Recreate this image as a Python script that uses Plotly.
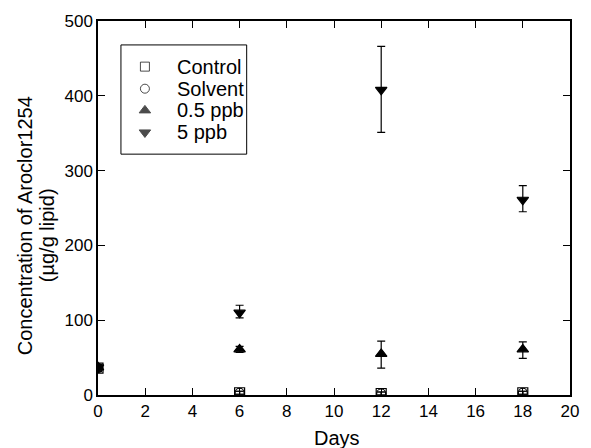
import plotly.graph_objects as go

days = [0, 6, 12, 18]
control = [36, 3, 2, 3]
control_err = [4, 2, 2, 2]
solvent = [36, 3, 2, 3]
solvent_err = [4, 2, 2, 2]
low_dose = [37, 61, 55, 61]
low_dose_err_plus = [3, 4, 17, 10]
low_dose_err_minus = [3, 4, 19, 12]
high_dose = [37, 110, 408, 261]
high_dose_err_plus = [3, 10, 58, 19]
high_dose_err_minus = [3, 7, 57, 16]

series_names = ["Control", "Solvent", "0.5 ppb", "5 ppb"]
x_ticks = list(range(0, 21, 2))
y_ticks = list(range(0, 501, 100))

FONT = "Liberation Sans, Arial, sans-serif"

symbols = ["square-open", "circle-open", "triangle-up", "triangle-down"]
sizes = [10, 9, 10, 10]

fig = go.Figure()

data = [
    (control, control_err, control_err),
    (solvent, solvent_err, solvent_err),
    (low_dose, low_dose_err_plus, low_dose_err_minus),
    (high_dose, high_dose_err_plus, high_dose_err_minus),
]

for name, (y, ep, em), sym, sz in zip(series_names, data, symbols, sizes):
    fig.add_trace(go.Scatter(
        x=days, y=y, mode="markers", name=name, showlegend=False,
        marker=dict(symbol=sym, size=sz, color="black",
                    line=dict(color="black", width=1.2)),
        error_y=dict(type="data", array=ep, arrayminus=em, symmetric=False,
                     color="black", thickness=1.2, width=4),
    ))

# custom legend (layout positions in paper fraction of plot area)
leg_rows = [0.878, 0.819, 0.761, 0.702]
leg_sym_x = 0.0994
leg_txt_x = 0.163
leg_sizes = [9, 9, 10, 10]
fig.add_trace(go.Scatter(
    x=[leg_sym_x] * 4, y=leg_rows, mode="markers", xaxis="x2", yaxis="y2",
    showlegend=False, hoverinfo="skip",
    marker=dict(symbol=symbols, size=leg_sizes, color="black",
                line=dict(color="black", width=1)),
))
for name, ry in zip(series_names, leg_rows):
    fig.add_annotation(x=leg_txt_x, y=ry, xref="paper", yref="paper",
                       text=name, showarrow=False, xanchor="left", yanchor="middle",
                       font=dict(family=FONT, size=20, color="black"))
fig.add_shape(type="rect", xref="paper", yref="paper",
              x0=0.0486, x1=0.315, y0=0.644, y1=0.936,
              line=dict(color="black", width=1), fillcolor="rgba(0,0,0,0)")

axis_common = dict(
    showline=True, linecolor="black", linewidth=1.5, mirror="ticks",
    ticks="inside", ticklen=7, tickwidth=1.2, tickcolor="black",
    showgrid=False, zeroline=False,
    tickfont=dict(family=FONT, size=17, color="black"),
)

# axis titles
fig.add_annotation(x=-0.154, y=0.452, xref="paper", yref="paper", textangle=-90,
                   xanchor="center", yanchor="middle",
                   text="Concentration of Aroclor1254", showarrow=False,
                   font=dict(family=FONT, size=20, color="black"))
fig.add_annotation(x=-0.109, y=0.426, xref="paper", yref="paper", textangle=-90,
                   xanchor="center", yanchor="middle",
                   text="(µg/g lipid)", showarrow=False,
                   font=dict(family=FONT, size=20, color="black"))
fig.add_annotation(x=0.507, y=-0.114, xref="paper", yref="paper",
                   xanchor="center", yanchor="middle",
                   text="Days", showarrow=False,
                   font=dict(family=FONT, size=20, color="black"))

fig.update_layout(
    width=591, height=448,
    margin=dict(l=98, r=20, t=19, b=53),
    plot_bgcolor="white", paper_bgcolor="white",
    font=dict(family=FONT, size=17, color="black"),
    showlegend=False,
    xaxis=dict(range=[0, 20], tickvals=x_ticks, **axis_common),
    yaxis=dict(range=[0, 500], tickvals=y_ticks, **axis_common),
    xaxis2=dict(range=[0, 1], overlaying="x", visible=False, fixedrange=True),
    yaxis2=dict(range=[0, 1], overlaying="y", visible=False, fixedrange=True),
)

fig.write_html(
    "out.html",
    config={"displayModeBar": False},
    post_script="document.body.style.margin='0px';document.body.style.overflow='hidden';",
)
